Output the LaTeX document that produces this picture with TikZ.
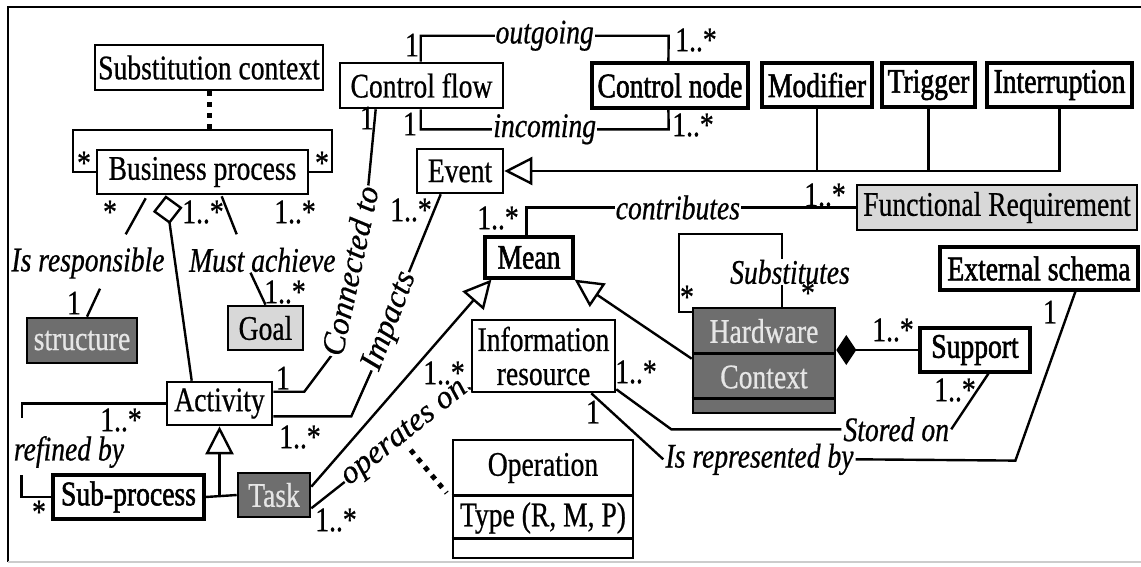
\documentclass[tikz,border=0pt]{standalone}
\usepackage{fontspec}
\setmainfont{Liberation Serif}[FakeStretch=0.8, FakeBold=0.6]
\newfontfamily\heavyfont{Liberation Serif}[FakeStretch=0.8, FakeBold=1.6]
\newfontfamily\rotfont{Liberation Serif}[FakeBold=0.6]
\usetikzlibrary{arrows.meta,calc}
\definecolor{boxdark}{HTML}{6E6E6E}
\definecolor{boxtext}{HTML}{E6E6E6}
\definecolor{boxlight}{HTML}{D8D8D8}

\begin{document}
\begin{tikzpicture}[x=1pt,y=-1pt,
  every node/.style={font=\fontsize{34.5}{34}\selectfont},
  box/.style={draw, line width=2.6pt, inner sep=0pt, fill=white},
  hbox/.style={box, line width=3.2pt, font=\fontsize{34.5}{34}\heavyfont},
  dark/.style={box, fill=boxdark, text=boxtext},
  light/.style={box, fill=boxlight},
  link/.style={line width=2.4pt},
  lab/.style={font=\fontsize{34.5}{34}\selectfont\itshape, inner sep=1pt},
  rlab/.style={font=\fontsize{32.5}{33}\rotfont\itshape, inner sep=1pt, fill=white, sloped},
  mult/.style={inner sep=0pt},
  gen/.style={link, -{Triangle[open, length=28pt, width=28pt]}},
  agg/.style={link, {Diamond[open, length=29pt, width=30pt]}-},
  comp/.style={link, {Diamond[length=20pt, width=30pt]}-},
  dots/.style={line width=5pt, dash pattern=on 5pt off 6pt},
]
% canvas and frame
\fill[white] (0,0) rectangle (1141,566);
\useasboundingbox (0,0) rectangle (1141,566);
\draw[line width=2.4pt] (8,562) -- (8,7) -- (1141,7);
\draw[line width=1.5pt, black!20] (8,562) -- (1141,562);

% classes
\node[box, minimum width=228pt, minimum height=45pt] (subctx) at (209,67.5) {Substitution context};
\node[box, minimum width=211pt, minimum height=44pt] (bp) at (202.5,172) {Business process};
\node[box, minimum width=163pt, minimum height=45pt] (cflow) at (421.5,85.5) {Control flow};
\node[hbox, minimum width=156pt, minimum height=45pt] (cnode) at (670,85.5) {Control node};
\node[hbox, minimum width=110pt, minimum height=44pt] (modifier) at (817,85) {Modifier};
\node[hbox, minimum width=93pt, minimum height=44pt] (trigger) at (928.5,85) {Trigger};
\node[hbox, minimum width=145pt, minimum height=44pt] (interruption) at (1059.5,85) {Interruption};
\node[box, minimum width=86pt, minimum height=44pt] (event) at (460,171) {Event};
\node[light, minimum width=280pt, minimum height=45pt] (fr) at (997,207.5) {Functional Requirement};
\node[hbox, minimum width=88pt, minimum height=41pt] (mean) at (529,257.5) {Mean};
\node[hbox, minimum width=198pt, minimum height=43pt] (ext) at (1039,268.5) {External schema};
\node[dark, minimum width=110pt, minimum height=45pt] (structure) at (82,340.5) {structure};
\node[light, minimum width=75pt, minimum height=44pt] (goal) at (265.5,328) {Goal};
\node[box, minimum width=143pt, minimum height=72pt, align=center] (info) at (543.5,356) {Information\\resource};
\node[hbox, minimum width=110pt, minimum height=44pt] (support) at (975,350) {Support};
\node[box, minimum width=105pt, minimum height=43pt] (activity) at (219.5,403.5) {Activity};
\node[hbox, minimum width=151pt, minimum height=44pt] (subproc) at (128.5,497) {Sub-process};
\node[dark, minimum width=72pt, minimum height=44pt] (task) at (274,495) {Task};

% Hardware / Context, three compartments
\node[dark, minimum width=142pt, minimum height=105pt] (hw) at (764,360.5) {};
\draw[line width=2.6pt] ($(hw.north west)+(0,47)$) -- ($(hw.north east)+(0,47)$);
\draw[line width=2.6pt] ($(hw.north west)+(0,92)$) -- ($(hw.north east)+(0,92)$);
\node[text=boxtext] (hwname) at (764,331) {Hardware};
\node[text=boxtext] (hwctx) at (764,377) {Context};

% Operation, three compartments
\node[box, minimum width=180pt, minimum height=118pt] (operation) at (543,499) {};
\draw[line width=3pt] ($(operation.north west)+(0,57)$) -- ($(operation.north east)+(0,57)$);
\draw[line width=3pt] ($(operation.north west)+(0,100)$) -- ($(operation.north east)+(0,100)$);
\node (opname) at (543,468) {Operation};
\node (optype) at (543,518) {Type (R, M, P)};

% Business process self association and its association class
\draw[link] (bp.west) -- ++(-23,0) -- ++(0,-42) coordinate (bpl) -- ++(259,0) -- ++(0,42) -- (bp.east);
\draw[dots] (subctx.south) -- (subctx.south |- bpl);

% Is responsible
\draw[link] ($(bp.south west)+(50,3)$) -- ++(-20,36);
\node[lab] (isresp) at (88,263) {Is responsible};
\draw[link] ($(structure.north)+(5,0)$) -- ++(13,-28);

% Must achieve
\draw[link] ($(bp.south west)+(126,1)$) -- ++(15,38);
\node[lab, anchor=west] (mustach) at (188,260) {Must achieve};
\draw[link] (goal.north) -- ++(-15,-32);

% aggregation of activities
\draw[agg] ($(bp.south west)+(70,0)$) -- ($(activity.north west)+(26,0)$);

% Connected to / Impacts
\draw[link] ($(activity.north east)+(0,11)$) -- ++(31,0) -- ++(27,-36)
  -- node[rlab] (connto) {Connected to} ++(37,-170) -- ($(cflow.south west)+(37,0)$);
\draw[link] ($(activity.south east)+(0,-10)$) -- ++(78,0) -- ++(20,-45)
  -- node[rlab] (impacts) {Impacts} ++(38,-100) -- ($(event.south west)+(25,0)$);

% outgoing / incoming
\draw[link] ($(cflow.north west)+(82,0)$) -- ++(0,-26)
  -- node[lab, fill=white] (outg) {outgoing} ++(248,0) -- ($(cnode.north west)+(78,0)$);
\draw[link] ($(cflow.south west)+(82,0)$) -- ++(0,20)
  -- node[lab, fill=white] (inc) {incoming} ++(248,0) -- ($(cnode.south west)+(78,0)$);

% Event specialisations
\draw[gen] (interruption.south) |- (event.east);
\draw[link] (modifier.south) -- (modifier.south |- event.east);
\draw[link] (trigger.south) -- (trigger.south |- event.east);

% contributes
\coordinate (meantop) at ($(mean.north west)+(43,0)$);
\draw[link] (fr.west) -- node[lab, fill=white, pos=0.54] (contrib) {contributes} (fr.west -| meantop) -- (meantop);

% Mean specialisations
\draw[gen] ($(task.north east)+(0,15)$) -- ($(mean.south west)+(8,0)$);
\draw[gen] ($(hw.north west)+(0,52)$) -- (mean.south east);

% Activity specialisations
\draw[link] (subproc.east) -- (task.west);
\draw[gen] (activity.south |- task.west) -- (activity.south);

% refined by
\draw[link] (activity.west) -- ++(-144,0) -- ++(0,14);
\draw[link] (subproc.west) -- ++(-30,0) -- ++(0,-22);
\node[lab] (refined) at (69,452) {refined by};

% operates on, with its association class
\draw[link] ($(task.south east)+(0,-10)$) -- ++(38,-30)
  -- node[rlab] (opon) {operates on} ++(112,-89) -- ($(info.south west)+(0,-5)$);
\draw[dots] ($(operation.west)+(-41,-49)$) -- ($(operation.west)+(-5,-6)$);

% Is represented by
\draw[link] ($(info.south east)+(-25,0)$) -- ++(72,66)
  node[lab, anchor=west] (isrep) {Is represented by};
\draw[link] (isrep.east) -- ($(ext.south west)+(77,169)$) -- ($(ext.south west)+(137,0)$);

% Stored on
\draw[link] ($(info.south east)+(0,-4)$) -- ++(55,40) -- ++(170,0)
  node[lab, anchor=west] (storedon) {Stored on};
\draw[link] (storedon.east) -- ($(support.south west)+(70,0)$);

% composition Hardware/Support
\draw[comp] (hw.east |- support.west) -- (support.west);

% Substitutes
\draw[link] ($(hw.north west)+(90,0)$) -- ++(0,-73) -- ++(-103,0) -- ++(0,78) -- ($(hw.north west)+(0,5)$);
\node[lab, fill=white] (subst) at (790,272) {Substitutes};

% multiplicities
\node[mult] (m1) at (84,163) {*};
\node[mult] (m2) at (322,163) {*};
\node[mult] (m3) at (110,212) {*};
\node[mult] (m4) at (203,212) {1..*};
\node[mult] (m5) at (295,212) {1..*};
\node[mult] (m6) at (74,303) {1};
\node[mult] (m7) at (285,292) {1..*};
\node[mult] (m8) at (367,118) {1};
\node[mult] (m9) at (412,45) {1};
\node[mult] (m10) at (696,40) {1..*};
\node[mult] (m11) at (410,124) {1};
\node[mult] (m12) at (693,125) {1..*};
\node[mult] (m13) at (411,210) {1..*};
\node[mult] (m14) at (498,218) {1..*};
\node[mult] (m15) at (825,195) {1..*};
\node[mult] (m16) at (283,378) {1};
\node[mult] (m17) at (300,437) {1..*};
\node[mult] (m18) at (121,420) {1..*};
\node[mult] (m19) at (39,512) {*};
\node[mult] (m20) at (336,520) {1..*};
\node[mult] (m21) at (444,373) {1..*};
\node[mult] (m22) at (636,372) {1..*};
\node[mult] (m23) at (593,412) {1};
\node[mult] (m24) at (687,297) {*};
\node[mult] (m25) at (808,293) {*};
\node[mult] (m26) at (893,330) {1..*};
\node[mult] (m27) at (955,390) {1..*};
\node[mult] (m28) at (1050,312) {1};
\end{tikzpicture}
\end{document}
